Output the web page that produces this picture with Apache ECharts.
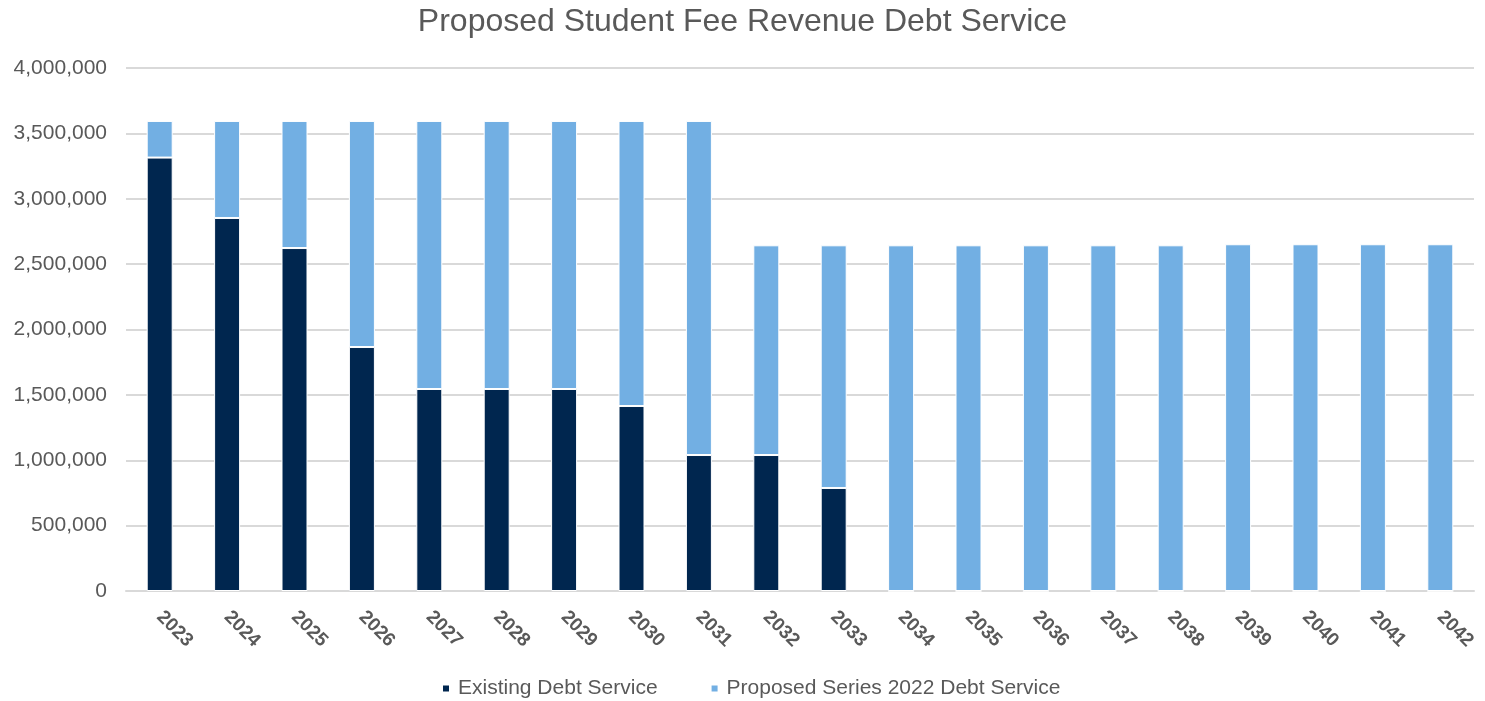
<!DOCTYPE html>
<html>
<head>
<meta charset="utf-8">
<script src="https://cdn.jsdelivr.net/npm/echarts@6/dist/echarts.min.js"></script>
<style>html,body{margin:0;padding:0;background:#fff}#c{width:1485px;height:701px}</style>
</head>
<body>
<div id="c"></div>
<script>
const years = ['2023','2024','2025','2026','2027','2028','2029','2030','2031','2032','2033','2034','2035','2036','2037','2038','2039','2040','2041','2042'];
const existing = [3315000,2853000,2623000,1866000,1545000,1545000,1545000,1415000,1040000,1040000,788000,0,0,0,0,0,0,0,0,0];
const proposed = [280000,742000,972000,1729000,2050000,2050000,2050000,2180000,2555000,1604000,1856000,2644000,2644000,2644000,2644000,2644000,2652000,2652000,2652000,2652000];
const yTicks = [0,500000,1000000,1500000,2000000,2500000,3000000,3500000,4000000];

const chart = echarts.init(document.getElementById('c'));
const font = '"Liberation Sans", Arial, sans-serif';
chart.setOption({
  animation: false,
  title: {
    text: 'Proposed Student Fee Revenue Debt Service',
    left: 'center', top: 1,
    textStyle: {fontFamily: font, fontSize: 32, fontWeight: 'normal', color: '#595959'}
  },
  legend: {
    top: 673, left: 436,
    icon: 'rect', itemWidth: 8, itemHeight: 8, itemGap: 52,
    textStyle: {fontFamily: font, fontSize: 21, color: '#595959', padding: [0, 0, 0, 3]},
    data: ['Existing Debt Service', 'Proposed Series 2022 Debt Service']
  },
  grid: {left: 126, right: 11, top: 68, bottom: 110},
  xAxis: {
    type: 'category', data: years,
    axisLine: {lineStyle: {color: '#d9d9d9', width: 2}},
    axisTick: {show: false},
    axisLabel: {rotate: -45, fontFamily: font, fontSize: 19, fontWeight: 'bold', color: '#595959', margin: 23, interval: 0}
  },
  yAxis: {
    type: 'value', min: 0, max: 4000000, interval: 500000,
    axisLine: {show: false}, axisTick: {show: false},
    splitLine: {lineStyle: {color: '#d9d9d9', width: 2}},
    axisLabel: {fontFamily: font, fontSize: 21, color: '#595959', margin: 19,
      formatter: v => v.toLocaleString('en-US')}
  },
  series: [
    {name: 'Existing Debt Service', type: 'bar', stack: 's', data: existing, barWidth: 26,
      itemStyle: {color: '#00264F', borderColor: '#ffffff', borderWidth: 1}},
    {name: 'Proposed Series 2022 Debt Service', type: 'bar', stack: 's', data: proposed, barWidth: 26,
      itemStyle: {color: '#72AFE3', borderColor: '#ffffff', borderWidth: 1}}
  ]
});
</script>
</body>
</html>
